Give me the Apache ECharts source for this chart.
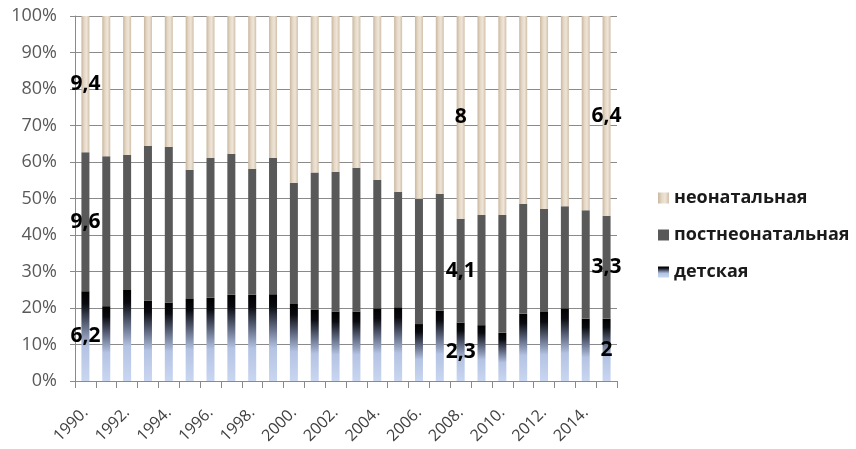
<!DOCTYPE html>
<html>
<head>
<meta charset="utf-8">
<script src="https://cdn.jsdelivr.net/npm/echarts@6/dist/echarts.min.js"></script>
<style>
  html, body { margin: 0; padding: 0; background: #ffffff; }
  #chart { width: 856px; height: 449px; }
</style>
</head>
<body>
<div id="chart"></div>
<script>
// Years on the category axis
const years = ['1990', '1991', '1992', '1993', '1994', '1995', '1996', '1997', '1998', '1999',
  '2000', '2001', '2002', '2003', '2004', '2005', '2006', '2007', '2008', '2009',
  '2010', '2011', '2012', '2013', '2014', '2015'];

// Share of each component in the total, % (null where the rate itself is printed)
const childShare = [null, 20.5, 24.9, 22.0, 21.5, 22.5, 22.8, 23.6, 23.6, 23.8,
  21.1, 19.6, 19.0, 19.0, 19.9, 20.2, 15.6, 19.3, null, 15.3,
  13.2, 18.4, 18.9, 19.9, 17.1, null];
const postShare = [null, 41.1, 37.0, 42.4, 42.6, 35.3, 38.3, 38.6, 34.5, 37.3,
  33.2, 37.5, 38.3, 39.4, 35.2, 31.6, 34.3, 31.9, null, 30.2,
  32.3, 30.1, 28.2, 28.0, 29.7, null];
const neoShare = [null, 38.4, 38.1, 35.6, 35.9, 42.2, 38.9, 37.8, 41.9, 38.9,
  45.7, 42.9, 42.7, 41.6, 44.9, 48.2, 50.1, 48.8, null, 54.5,
  54.5, 51.5, 52.9, 52.1, 53.2, null];

// Rates printed on the bars (per 1000)
const ratedYears = ['1990', '2008', '2015'];
const childRate = [6.2, 2.3, 2];
const postRate = [9.6, 4.1, 3.3];
const neoRate = [9.4, 8, 6.4];

// Y axis ticks
const yTicks = [0, 10, 20, 30, 40, 50, 60, 70, 80, 90, 100];

const seriesNames = ['детская', 'постнеонатальная', 'неонатальная'];

function fmt(v) { return String(v).replace('.', ','); }

// Normalise every year to 100 %
const childData = [], postData = [], neoData = [];
years.forEach(function (y, i) {
  const r = ratedYears.indexOf(y);
  let parts, rates = null;
  if (r >= 0) {
    rates = [childRate[r], postRate[r], neoRate[r]];
    parts = rates.slice();
  } else {
    parts = [childShare[i], postShare[i], neoShare[i]];
  }
  const total = parts[0] + parts[1] + parts[2];
  const pct = parts.map(function (p) { return p / total * 100; });
  [childData, postData, neoData].forEach(function (arr, k) {
    const item = { value: pct[k] };
    if (rates) {
      item.label = { show: true, formatter: fmt(rates[k]) };
    }
    arr.push(item);
  });
});

const FONT = '"Open Sans", Lato, sans-serif';

const childFill = new echarts.graphic.LinearGradient(0, 0, 0, 1, [
  { offset: 0, color: '#000000' },
  { offset: 0.14, color: '#0a0b10' },
  { offset: 0.38, color: '#5f6880' },
  { offset: 0.62, color: '#b4c3e3' },
  { offset: 1, color: '#c9d6f1' }
]);
const postFill = '#595959';
const neoFill = new echarts.graphic.LinearGradient(0, 0, 1, 0, [
  { offset: 0, color: '#c9b7a0' },
  { offset: 0.35, color: '#e5d8c6' },
  { offset: 0.65, color: '#eee5d8' },
  { offset: 1, color: '#d1c0aa' }
]);

const labelStyle = {
  position: 'inside',
  color: '#000000',
  fontFamily: FONT,
  fontWeight: 'bold',
  fontSize: 21
};

const chart = echarts.init(document.getElementById('chart'), null, { renderer: 'canvas' });
chart.setOption({
  animation: false,
  backgroundColor: '#ffffff',
  grid: { left: 75, right: 239, top: 16, bottom: 68, containLabel: false, outerBoundsMode: 'none' },
  legend: {
    orient: 'vertical',
    left: 653,
    top: 184,
    itemGap: 19,
    itemWidth: 11,
    itemHeight: 11,
    icon: 'rect',
    data: ['неонатальная', 'постнеонатальная', 'детская'],
    textStyle: { fontFamily: FONT, fontSize: 18, fontWeight: 'bold', color: '#1a1a1a' }
  },
  xAxis: {
    type: 'category',
    data: years,
    axisLine: { lineStyle: { color: '#8a8a8a', width: 1 } },
    axisTick: { show: true, interval: 0, length: 7, lineStyle: { color: '#8a8a8a' } },
    axisLabel: {
      interval: 1,
      rotate: 45,
      margin: 29,
      formatter: function (v) { return v + '.'; },
      fontFamily: FONT,
      fontSize: 16,
      color: '#404040'
    }
  },
  yAxis: {
    type: 'value',
    min: yTicks[0],
    max: yTicks[yTicks.length - 1],
    interval: yTicks[1] - yTicks[0],
    axisLine: { show: true, lineStyle: { color: '#8a8a8a' } },
    axisTick: { show: true, length: 5, lineStyle: { color: '#8a8a8a' } },
    splitLine: { lineStyle: { color: '#8a8a8a', width: 1 } },
    axisLabel: {
      formatter: '{value}%',
      margin: 18,
      fontFamily: FONT,
      fontSize: 18,
      color: '#595959'
    }
  },
  series: [
    { name: seriesNames[0], type: 'bar', stack: 'all', barWidth: 8, data: childData,
      itemStyle: { color: childFill }, label: labelStyle },
    { name: seriesNames[1], type: 'bar', stack: 'all', barWidth: 8, data: postData,
      itemStyle: { color: postFill }, label: labelStyle },
    { name: seriesNames[2], type: 'bar', stack: 'all', barWidth: 8, data: neoData,
      itemStyle: { color: neoFill }, label: labelStyle }
  ]
});
</script>
</body>
</html>
